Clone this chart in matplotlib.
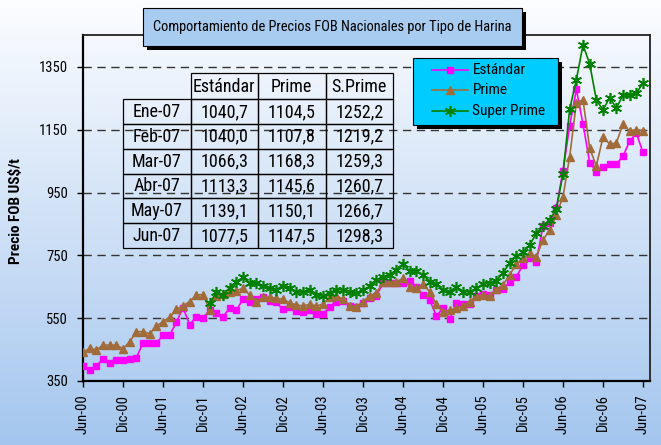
import numpy as np
import matplotlib
matplotlib.use("Agg")
import matplotlib.pyplot as plt
from matplotlib import font_manager
from matplotlib.patches import Rectangle
from matplotlib.lines import Line2D

W, H = 661, 445

# ---- data (monthly, Jun-00 .. Jun-07) ----
tick_labels = ["Jun-00", "Dic-00", "Jun-01", "Dic-01", "Jun-02", "Dic-02", "Jun-03",
               "Dic-03", "Jun-04", "Dic-04", "Jun-05", "Dic-05", "Jun-06", "Dic-06", "Jun-07"]

estandar = [398, 385, 398, 421, 407, 416, 416, 421, 424, 471,
            470, 470, 496, 496, 537, 583, 529, 555, 551, 576,
            568, 555, 582, 576, 610, 600, 610, 618, 604, 600,
            578, 587, 573, 570, 576, 562, 563, 587, 603, 604,
            589, 585, 599, 613, 621, 661, 661, 661, 663, 669,
            650, 624, 608, 557, 582, 547, 598, 594, 594, 621,
            626, 624, 640, 642, 666, 682, 719, 741, 730, 844,
            854, 900, 1020, 1162, 1279, 1168, 1045, 1017, 1031, 1040.7,
            1040.0, 1066.3, 1113.3, 1139.1, 1077.5]

prime = [441, 454, 449, 464, 464, 464, 453, 475, 507, 507,
         500, 525, 539, 553, 578, 589, 603, 624, 625, 576,
         621, 626, 632, 638, 645, 624, 603, 617, 617, 613,
         610, 599, 592, 589, 594, 589, 594, 618, 622, 610,
         590, 587, 603, 621, 629, 666, 666, 666, 677, 650,
         645, 658, 634, 594, 571, 576, 582, 589, 603, 621,
         624, 621, 642, 656, 688, 722, 741, 757, 746, 799,
         831, 879, 937, 1064, 1236, 1245, 1091, 1035, 1126, 1104.5,
         1107.8, 1168.3, 1145.6, 1150.1, 1147.5]

super_prime = [np.nan] * 19 + [
    597, 632, 624, 647, 664, 680, 662, 661, 653, 645,
    641, 654, 647, 634, 633, 641, 624, 620, 631, 641,
    640, 634, 629, 641, 651, 673, 680, 686, 704, 722,
    700, 700, 689, 666, 658, 640, 634, 650, 634, 634,
    645, 659, 663, 669, 695, 725, 748, 760, 783, 820,
    844, 863, 897, 1010, 1215, 1309, 1420, 1360, 1245, 1213,
    1252.2, 1219.2, 1259.3, 1260.7, 1266.7, 1298.3]

series_names = ["Estándar", "Prime", "Super Prime"]
table_rows = ["Ene-07", "Feb-07", "Mar-07", "Abr-07", "May-07", "Jun-07"]
table_cols = ["Estándar", "Prime", "S.Prime"]

# ---- fonts: prefer a narrow face, else shrink Liberation Sans ----
fonts = font_manager.fontManager.ttflist
names = {f.name for f in fonts}
STRETCH = "normal"
SCALE = 1.0
if "Liberation Sans Narrow" in names:
    FAMILY = "Liberation Sans Narrow"
elif "Roboto Condensed" in names:
    FAMILY = "Roboto Condensed"
elif any(f.name == "DejaVu Sans" and f.stretch == "condensed" for f in fonts):
    FAMILY, STRETCH, SCALE = "DejaVu Sans", "condensed", 0.85
else:
    FAMILY, SCALE = "Liberation Sans", 0.86
plt.rcParams["font.family"] = [FAMILY, "DejaVu Sans"]
plt.rcParams["font.stretch"] = STRETCH


def fs(size):
    return size * SCALE


MAGENTA = "#FF00FF"
BROWN = "#A26C3A"
GREEN = "#008000"
styles = [
    dict(color=MAGENTA, marker="s", ms=4.5, mfc=MAGENTA, mec=MAGENTA, lw=1.2),
    dict(color=BROWN, marker="^", ms=5.5, mfc=BROWN, mec=BROWN, lw=1.2),
    dict(color=GREEN, marker=(6, 2, 0), ms=8, mfc=GREEN, mec=GREEN, mew=1.2, lw=1.2),
]

fig = plt.figure(figsize=(W / 100, H / 100), dpi=100)

# background gradient
bg = fig.add_axes([0, 0, 1, 1], zorder=0)
top = np.array([252, 253, 255]) / 255
bot = np.array([164, 198, 238]) / 255
t = np.linspace(0, 1, 256)[:, None]
grad = (top * (1 - t) + bot * t)[:, None, :]
bg.imshow(grad, aspect="auto", extent=[0, 1, 0, 1])
bg.axis("off")

# main axes
L, R, T, B = 82.5, 650, 35.5, 381
ax = fig.add_axes([L / W, 1 - B / H, (R - L) / W, (B - T) / H], zorder=1)
ax.patch.set_visible(False)

x = np.arange(len(estandar))
for vals, st in zip([estandar, prime, super_prime], styles):
    ax.plot(x, vals, **st, zorder=3)

ax.set_ylim(350, 1450)
ax.set_yticks(np.arange(350, 1351, 200))
ax.set_xlim(-0.08, 85.05)
ax.set_xticks(np.arange(0, len(x), 6))
ax.set_xticklabels(tick_labels, rotation=90, fontsize=fs(10.5))
ax.tick_params(axis="y", labelsize=fs(10.5), length=4, width=1, pad=6.5, direction="out")
ax.tick_params(axis="x", length=4.3, width=1, pad=5, direction="out")
for yv in np.arange(550, 1351, 200):
    ax.axhline(yv, color="#333333", lw=1.0, ls=(0, (6, 4)), zorder=1)
for s in ["left", "bottom"]:
    ax.spines[s].set_linewidth(1.6)
for s in ["top", "right"]:
    ax.spines[s].set_linewidth(1.3)
    ax.spines[s].set_color("#222222")

# overlay in pixel coordinates (top-left origin)
ov = fig.add_axes([0, 0, 1, 1], zorder=3)
ov.set_xlim(0, W)
ov.set_ylim(H, 0)
ov.axis("off")

# title box with shadow
ov.add_patch(Rectangle((147, 12), 379, 38, fc="black", ec="none"))
ov.add_patch(Rectangle((143, 7.5), 379, 38, fc="#A8CBF0", ec="black", lw=0.8))
ov.text(332.5, 26.5, "Comportamiento de Precios FOB Nacionales por Tipo de Harina",
        ha="center", va="center", fontsize=fs(10.4))

# y label
ov.text(16.5, 211, "Precio FOB US$/t", rotation=90, ha="center", va="center",
        fontsize=fs(11), fontweight="bold")

# legend box with shadow
ov.add_patch(Rectangle((417, 62), 144.5, 67, fc="black", ec="none"))
ov.add_patch(Rectangle((413, 58), 144.5, 67, fc="#00CCFF", ec="black", lw=0.8))
for k, (name, st) in enumerate(zip(series_names, styles)):
    yc = 69.5 + k * 20.5
    ov.add_line(Line2D([432, 468], [yc, yc], color=st["color"], lw=st["lw"]))
    ov.add_line(Line2D([450], [yc], marker=st["marker"], ms=st["ms"], mfc=st["mfc"],
                       mec=st["mec"], mew=st.get("mew", 1.0), ls="none"))
    ov.text(472.5, yc, name, ha="left", va="center", fontsize=fs(11))

# data table (last six months), transparent
col_edges = [122.5, 190.5, 258, 325.5, 393]
row_edges = [73, 99] + [99 + 24.85 * (k + 1) for k in range(6)]
table_vals = [s[-6:] for s in [estandar, prime, super_prime]]
for j, name in enumerate(table_cols):
    x0, x1 = col_edges[j + 1], col_edges[j + 2]
    ov.add_patch(Rectangle((x0, row_edges[0]), x1 - x0, row_edges[1] - row_edges[0],
                           fc="none", ec="black", lw=0.9))
    ov.text((x0 + x1) / 2, (row_edges[0] + row_edges[1]) / 2 + 0.5, name,
            ha="center", va="center", fontsize=fs(13))
for i, rname in enumerate(table_rows):
    y0, y1 = row_edges[i + 1], row_edges[i + 2]
    ov.add_patch(Rectangle((col_edges[0], y0), col_edges[1] - col_edges[0], y1 - y0,
                           fc="none", ec="black", lw=0.9))
    ov.text((col_edges[0] + col_edges[1]) / 2, (y0 + y1) / 2 + 0.5, rname,
            ha="center", va="center", fontsize=fs(13))
    for j in range(3):
        x0, x1 = col_edges[j + 1], col_edges[j + 2]
        ov.add_patch(Rectangle((x0, y0), x1 - x0, y1 - y0, fc="none", ec="black", lw=0.9))
        txt = f"{table_vals[j][i]:.1f}".replace(".", ",")
        ov.text((x0 + x1) / 2, (y0 + y1) / 2 + 0.5, txt, ha="center", va="center",
                fontsize=fs(13))

fig.savefig("out.png", dpi=100)
